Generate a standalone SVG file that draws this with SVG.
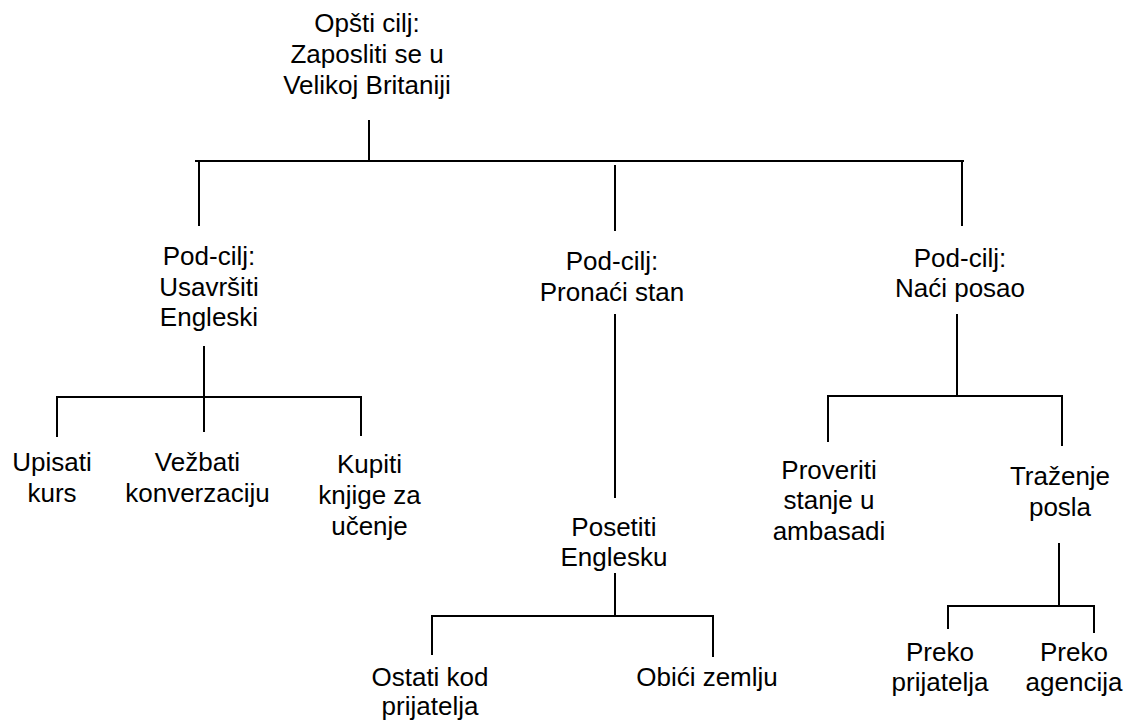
<svg xmlns="http://www.w3.org/2000/svg" width="1129" height="721" viewBox="0 0 1129 721">
<style>
text{font-family:"Liberation Sans",Arial,sans-serif;font-size:26px;fill:#000;text-anchor:middle}
.c{stroke:#000;stroke-width:2;fill:none}
</style>
<rect width="1129" height="721" fill="#fff"/>
<g id="connectors" class="c">
<path d="M369 120V161M195 161H964M199 160V226M962 160V226M615 165V231"/>
<path d="M615 314V498"/>
<path d="M204 346V432M57 397H361M57 396V437M361 396V436"/>
<path d="M615 573V616M432 616H713M432 615V655M713 615V657"/>
<path d="M957 314V396M828 396H1062M828 395V442M1062 395V446"/>
<path d="M1059 543V606M948 606H1094M948 605V629M1094 605V633"/>
</g>
<g id="root"><text x="367" y="32">Opšti cilj:</text><text x="367" y="63">Zaposliti se u</text><text x="367" y="94">Velikoj Britaniji</text></g>
<g id="sub-engleski"><text x="209" y="265">Pod-cilj:</text><text x="209" y="296">Usavršiti</text><text x="209" y="326">Engleski</text></g>
<g id="sub-stan"><text x="612" y="270">Pod-cilj:</text><text x="612" y="301">Pronaći stan</text></g>
<g id="sub-posao"><text x="960" y="267">Pod-cilj:</text><text x="960" y="297">Naći posao</text></g>
<g id="upisati"><text x="52" y="471">Upisati</text><text x="52" y="502">kurs</text></g>
<g id="vezbati"><text x="197.5" y="471">Vežbati</text><text x="197.5" y="502">konverzaciju</text></g>
<g id="kupiti"><text x="369.5" y="473">Kupiti</text><text x="369.5" y="504">knjige za</text><text x="369.5" y="535">učenje</text></g>
<g id="posetiti"><text x="614" y="536">Posetiti</text><text x="614" y="566">Englesku</text></g>
<g id="ostati"><text x="430" y="686">Ostati kod</text><text x="430" y="715">prijatelja</text></g>
<g id="obici"><text x="707" y="686">Obići zemlju</text></g>
<g id="proveriti"><text x="829" y="479">Proveriti</text><text x="829" y="509">stanje u</text><text x="829" y="540">ambasadi</text></g>
<g id="trazenje"><text x="1060" y="485">Traženje</text><text x="1060" y="516">posla</text></g>
<g id="preko-prijatelja"><text x="940" y="661">Preko</text><text x="940" y="691">prijatelja</text></g>
<g id="preko-agencija"><text x="1074" y="661">Preko</text><text x="1074" y="691">agencija</text></g>
</svg>
